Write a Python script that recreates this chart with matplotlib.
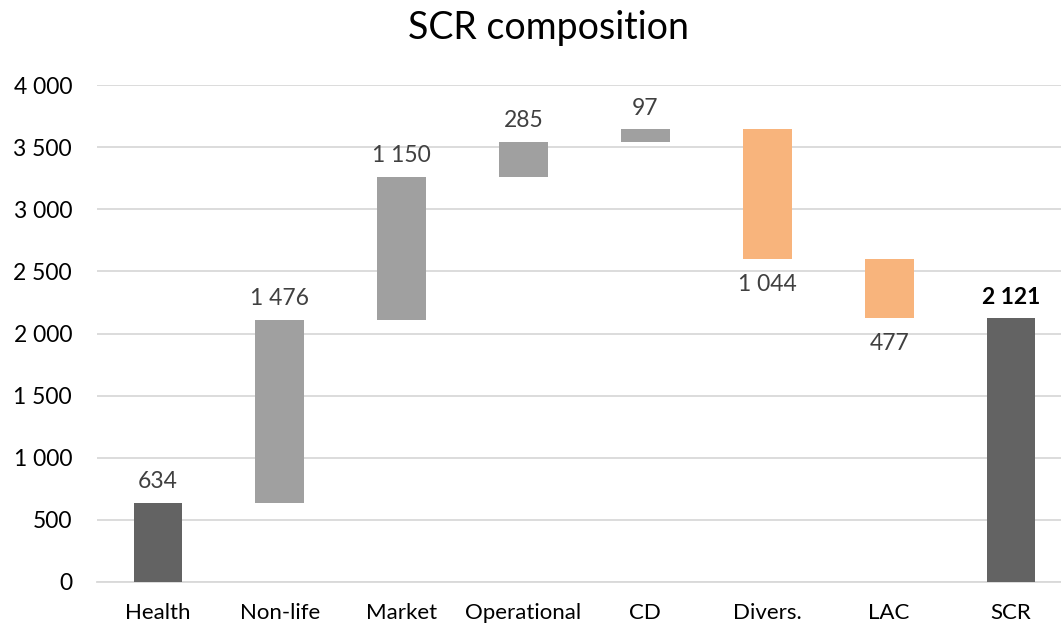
import matplotlib
matplotlib.use("Agg")
import matplotlib.pyplot as plt
import numpy as np
from matplotlib.ticker import FuncFormatter

categories = ["Health", "Non-life", "Market", "Operational", "CD", "Divers.", "LAC", "SCR"]
values = [634, 1476, 1150, 285, 97, -1044, -477, 2121]
kinds = ["total", "step", "step", "step", "step", "step", "step", "total"]
labels = ["634", "1 476", "1 150", "285", "97", "1 044", "477", "2 121"]

plt.rcParams['font.family'] = ['Lato', 'DejaVu Sans']

fig = plt.figure(figsize=(10.61, 6.23), dpi=100)
ax = fig.add_axes([97/1061, 41/623, 975/1061, 497/623])

bottoms, heights, colors = [], [], []
running = 0
for v, k in zip(values, kinds):
    if k == "total":
        bottoms.append(0); heights.append(v); colors.append("#636363")
        running = v
    else:
        if v >= 0:
            bottoms.append(running); heights.append(v); colors.append("#A0A0A0")
        else:
            bottoms.append(running + v); heights.append(-v); colors.append("#F8B47C")
        running += v

x = np.arange(len(categories))
ax.bar(x, heights, bottom=bottoms, width=0.4, color=colors, zorder=3)

for i, (b, h, v, lab) in enumerate(zip(bottoms, heights, values, labels)):
    if i == len(values) - 1:
        ax.text(i, b + h + 88, lab, ha="center", va="bottom", fontsize=16.5,
                fontweight="bold", color="black")
    elif v >= 0:
        ax.text(i, b + h + 88, lab, ha="center", va="bottom", fontsize=16.5, color="#404040")
    else:
        ax.text(i, b - 120, lab, ha="center", va="top", fontsize=16.5, color="#404040")

ax.set_xlim(-0.5, 7.5)
ax.set_ylim(0, 4000)
ax.set_yticks(np.arange(0, 4001, 500))
ax.yaxis.set_major_formatter(FuncFormatter(lambda v, p: f"{int(v):,}".replace(",", " ")))
ax.set_xticks(x)
ax.set_xticklabels(categories)
ax.tick_params(axis="both", length=0, colors="black")
ax.tick_params(axis="x", pad=15, labelsize=16)
ax.tick_params(axis="y", pad=18, labelsize=16.5)
ax.grid(axis="y", color="#D9D9D9", linewidth=1.3, zorder=0)
for s in ["top", "right", "left"]:
    ax.spines[s].set_visible(False)
ax.spines["bottom"].set_color("#D9D9D9")
ax.spines["bottom"].set_linewidth(1.3)

fig.text(548/1061, 1 - 28/623, "SCR composition", ha="center", va="center", fontsize=27)

fig.savefig("out.png", dpi=100)
